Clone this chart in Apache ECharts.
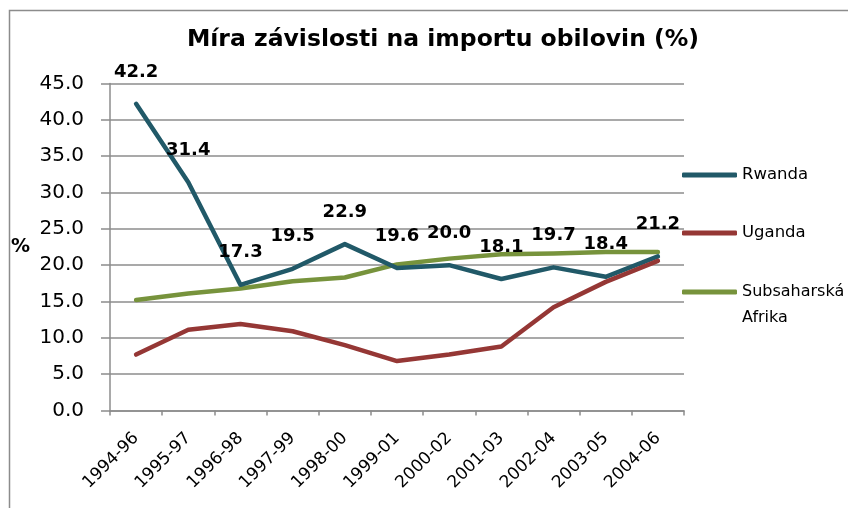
<!DOCTYPE html>
<html>
<head>
<meta charset="utf-8">
<script src="https://cdn.jsdelivr.net/npm/echarts@6/dist/echarts.min.js"></script>
<style>
  html, body { margin: 0; padding: 0; background: #fff; }
  #chart { width: 848px; height: 508px; }
</style>
</head>
<body>
<div id="chart"></div>
<script>
  // data
  const periods = ['1994-96', '1995-97', '1996-98', '1997-99', '1998-00', '1999-01',
    '2000-02', '2001-03', '2002-04', '2003-05', '2004-06']
  const rwanda = [42.2, 31.4, 17.3, 19.5, 22.9, 19.6, 20.0, 18.1, 19.7, 18.4, 21.2]
  const uganda = [7.7, 11.1, 11.9, 10.9, 9.0, 6.8, 7.7, 8.8, 14.2, 17.7, 20.6]
  const subsahara = [15.2, 16.1, 16.8, 17.8, 18.3, 20.1, 20.9, 21.5, 21.6, 21.8, 21.8]

  const font = 'DejaVu Sans'
  const gray = '#8c8c8c'

  const chart = echarts.init(document.getElementById('chart'))
  const option = {
    animation: false,
    textStyle: { fontFamily: font },
    title: {
      text: 'Míra závislosti na importu obilovin (%)',
      left: 438,
      textAlign: 'center',
      top: 23,
      textStyle: { fontFamily: font, fontSize: 23.5, fontWeight: 'bold', color: '#000' }
    },
    graphic: [{
      type: 'rect',
      shape: { x: 9.5, y: 10.5, width: 900, height: 600 },
      style: { fill: null, stroke: gray, lineWidth: 1.5 },
      silent: true
    }],
    legend: [{
      orient: 'vertical',
      left: 682,
      top: 162,
      padding: 0,
      itemGap: 32,
      itemWidth: 55,
      itemHeight: 5,
      textGap: 3,
      icon: 'roundRect',
      textStyle: { fontFamily: font, fontSize: 16.5, color: '#000', lineHeight: 26 },
      data: ['Rwanda', 'Uganda']
    }, {
      // two-line name: an empty first line keeps "Subsaharská" level with the icon
      orient: 'vertical',
      left: 682,
      top: 253,
      padding: 0,
      itemWidth: 55,
      itemHeight: 5,
      textGap: 3,
      icon: 'roundRect',
      formatter: name => ' \n' + name.replace(' ', '\n'),
      textStyle: { fontFamily: font, fontSize: 16, color: '#000', lineHeight: 26 },
      data: ['Subsaharská Afrika']
    }],
    grid: { left: 110, right: 164, top: 83.5, bottom: 97.5 },
    xAxis: {
      type: 'category',
      data: periods,
      boundaryGap: true,
      axisLine: { lineStyle: { color: gray, width: 1.5 } },
      axisTick: { show: true, length: 5, lineStyle: { color: gray, width: 1.5 } },
      axisLabel: { rotate: 45, fontSize: 17, color: '#000', margin: 25, interval: 0 }
    },
    yAxis: {
      type: 'value',
      min: 0,
      max: 45,
      interval: 5,
      name: '%',
      nameLocation: 'middle',
      nameRotate: 0,
      nameGap: 80,
      nameTextStyle: { fontSize: 19, fontWeight: 'bold', color: '#000' },
      axisLine: { show: true, lineStyle: { color: gray, width: 1.5 } },
      axisTick: { show: true, length: 9, lineStyle: { color: gray, width: 1.5 } },
      axisLabel: { fontSize: 20, color: '#000', margin: 26, formatter: v => v.toFixed(1) },
      splitLine: { lineStyle: { color: gray, width: 1.5 } }
    },
    series: [{
      name: 'Rwanda',
      type: 'line',
      data: rwanda,
      symbol: 'circle',
      symbolSize: 2,
      showSymbol: true,
      lineStyle: { color: '#215968', width: 4.5, cap: 'round', join: 'round' },
      itemStyle: { color: '#215968' },
      label: {
        show: true,
        position: 'top',
        distance: 22,
        fontFamily: font,
        fontSize: 18,
        fontWeight: 'bold',
        color: '#000',
        formatter: p => p.value.toFixed(1)
      },
      z: 3
    }, {
      name: 'Uganda',
      type: 'line',
      data: uganda,
      symbol: 'none',
      lineStyle: { color: '#953735', width: 4.5, cap: 'round', join: 'round' },
      itemStyle: { color: '#953735' },
      z: 4
    }, {
      name: 'Subsaharská Afrika',
      type: 'line',
      data: subsahara,
      symbol: 'none',
      lineStyle: { color: '#77933c', width: 4.5, cap: 'round', join: 'round' },
      itemStyle: { color: '#77933c' },
      z: 2
    }]
  }
  chart.setOption(option)
</script>
</body>
</html>
